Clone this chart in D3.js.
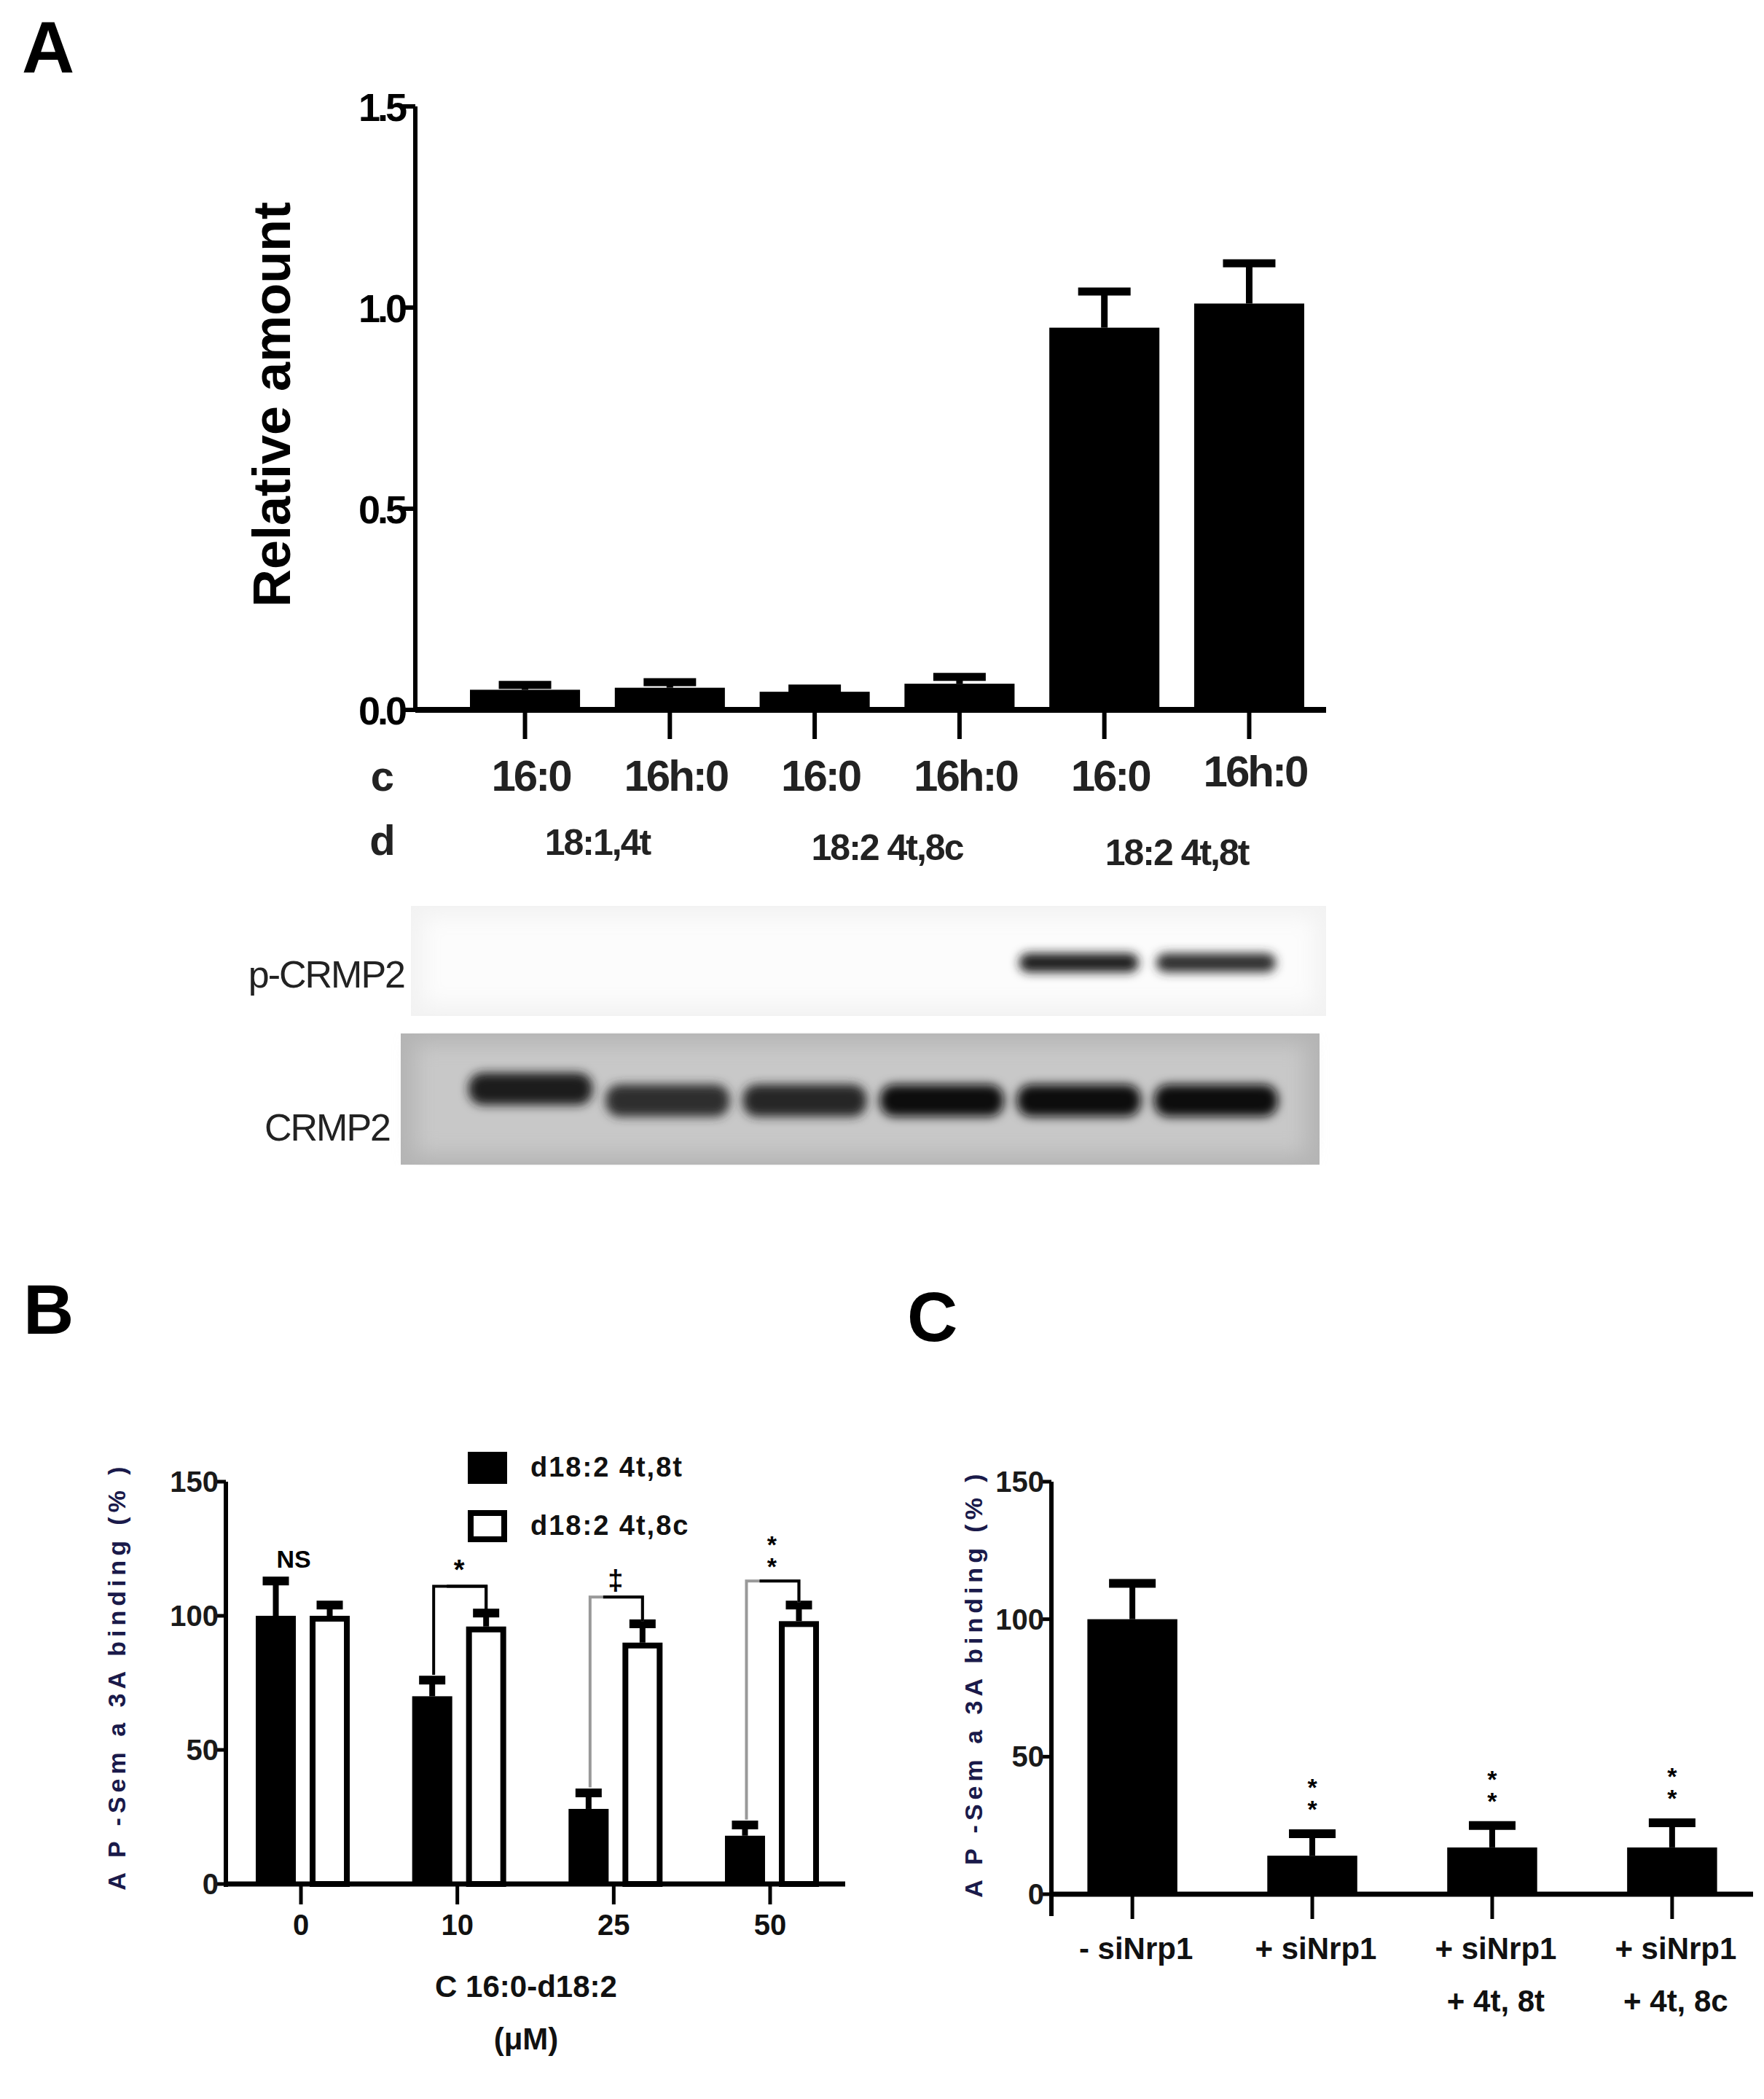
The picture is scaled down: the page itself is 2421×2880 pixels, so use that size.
<!DOCTYPE html>
<html><head><meta charset="utf-8">
<script src="https://cdn.jsdelivr.net/npm/d3@7"></script>
<style>body{margin:0;background:#fff}text{font-family:"Liberation Sans",Arial,sans-serif}</style>
</head><body><svg id="fig" width="2421" height="2880"></svg>
<script>
// Panel A data
var aCats = ["16:0", "16h:0", "16:0", "16h:0", "16:0", "16h:0"];
var aDLabels = ["18:1,4t", "18:2 4t,8c", "18:2 4t,8t"];
var aValues = [0.05, 0.055, 0.045, 0.065, 0.95, 1.01];
var aErr = [0.012, 0.014, 0.008, 0.017, 0.09, 0.1];
var aTicks = [0, 0.5, 1.0, 1.5];
var pBand = [0, 0, 0, 0, 0.9, 0.85];
var tBand = [0.75, 0.7, 0.72, 0.8, 0.82, 0.82];

// Panel B data
var bDoses = ["0", "10", "25", "50"];
var bTT = [100, 70, 28, 18];
var bTTerr = [13, 6, 6, 4];
var bTC = [100, 96, 90, 98];
var bTCerr = [4, 5, 7, 6];
var bSig = ["NS", "*", "‡", "**"];
var bTicks = [0, 50, 100, 150];

// Panel C data
var cCats = [["- siNrp1"], ["+ siNrp1"], ["+ siNrp1", "+ 4t, 8t"], ["+ siNrp1", "+ 4t, 8c"]];
var cValues = [100, 14, 17, 17];
var cErr = [13, 8, 8, 9];

var svg = d3.select("#fig");
var navy = "#1a1a4a";

// ---------- Panel A ----------
svg.append("text").attr("x", 30).attr("y", 100).attr("font-size", 100).attr("font-weight", "bold").text("A");

var ax = d3.scaleBand().domain(d3.range(6)).range([645, 1790]).paddingInner(0.24).paddingOuter(0);
var ay = d3.scaleLinear().domain([0, 1.5]).range([974, 146]);
var gA = svg.append("g");
gA.selectAll("rect.bar").data(aValues).join("rect")
  .attr("x", (d, i) => ax(i)).attr("width", ax.bandwidth())
  .attr("y", d => ay(d)).attr("height", d => ay(0) - ay(d)).attr("fill", "#000");
gA.selectAll("g.err").data(aValues).join("g").each(function (d, i) {
  var cx = ax(i) + ax.bandwidth() / 2, top = ay(d + aErr[i]);
  d3.select(this).append("line").attr("x1", cx).attr("x2", cx).attr("y1", ay(d)).attr("y2", top).attr("stroke", "#000").attr("stroke-width", 9);
  d3.select(this).append("line").attr("x1", cx - 36).attr("x2", cx + 36).attr("y1", top).attr("y2", top).attr("stroke", "#000").attr("stroke-width", 11);
});
gA.append("line").attr("x1", 570).attr("x2", 1820).attr("y1", ay(0)).attr("y2", ay(0)).attr("stroke", "#000").attr("stroke-width", 8);
gA.append("line").attr("x1", 570).attr("x2", 570).attr("y1", ay(0)).attr("y2", ay(1.5)).attr("stroke", "#000").attr("stroke-width", 6);
aValues.forEach((d, i) => {
  var cx = ax(i) + ax.bandwidth() / 2;
  gA.append("line").attr("x1", cx).attr("x2", cx).attr("y1", ay(0)).attr("y2", ay(0) + 40).attr("stroke", "#000").attr("stroke-width", 6);
});
aTicks.forEach(t => {
  gA.append("line").attr("x1", 552).attr("x2", 570).attr("y1", ay(t)).attr("y2", ay(t)).attr("stroke", "#000").attr("stroke-width", 6);
  gA.append("text").attr("x", 555).attr("y", ay(t) + 20).attr("text-anchor", "end").attr("font-size", 54)
    .attr("font-weight", "bold").attr("letter-spacing", -4).text(d3.format(".1f")(t));
});
gA.append("text").attr("transform", "translate(398,555) rotate(-90)").attr("text-anchor", "middle")
  .attr("font-size", 72).attr("font-weight", "bold").text("Relative amount");
gA.append("text").attr("x", 525).attr("y", 1085).attr("text-anchor", "middle").attr("font-size", 58).attr("font-weight", "bold").attr("fill", "#222").text("c");
gA.append("text").attr("x", 525).attr("y", 1173).attr("text-anchor", "middle").attr("font-size", 58).attr("font-weight", "bold").attr("fill", "#222").text("d");
aCats.forEach((c, i) => {
  gA.append("text").attr("x", ax(i) + ax.bandwidth() / 2 + 8).attr("y", 1085 - (i === 5 ? 6 : 0)).attr("text-anchor", "middle")
    .attr("font-size", 60).attr("font-weight", "bold").attr("fill", "#222").attr("letter-spacing", -3).text(c);
});
aDLabels.forEach((c, i) => {
  var cx = (ax(2 * i) + ax(2 * i + 1) + ax.bandwidth()) / 2;
  gA.append("text").attr("x", cx).attr("y", 1173 + i * 7).attr("text-anchor", "middle")
    .attr("font-size", 50).attr("font-weight", "bold").attr("fill", "#222").attr("letter-spacing", -2).text(c);
});

// blots
var lane = d3.scaleBand().domain(d3.range(6)).range([634, 1763]);
var defs = svg.append("defs");
defs.append("filter").attr("id", "blur").attr("x", "-20%").attr("y", "-100%").attr("width", "140%").attr("height", "300%")
  .append("feGaussianBlur").attr("stdDeviation", 7);
defs.append("filter").attr("id", "blur2").attr("x", "-10%").attr("y", "-10%").attr("width", "120%").attr("height", "120%")
  .append("feGaussianBlur").attr("stdDeviation", 14);
var g1 = svg.append("g");
g1.append("rect").attr("x", 564).attr("y", 1243).attr("width", 1256).attr("height", 151).attr("fill", "#f2f2f2");
g1.append("rect").attr("x", 580).attr("y", 1258).attr("width", 1225).attr("height", 121).attr("fill", "#fcfcfc").attr("filter", "url(#blur2)");
pBand.forEach((v, i) => {
  if (v <= 0) return;
  var cx = lane(i) + lane.bandwidth() / 2;
  g1.append("rect").attr("x", cx - 82).attr("y", 1308).attr("width", 164).attr("height", 26).attr("rx", 13)
    .attr("fill", d3.interpolateGreys(v)).attr("filter", "url(#blur)");
});
g1.append("text").attr("x", 555).attr("y", 1355).attr("text-anchor", "end").attr("font-size", 52).attr("fill", "#222").attr("letter-spacing", -2).text("p-CRMP2");
var g2 = svg.append("g");
g2.append("rect").attr("x", 550).attr("y", 1418).attr("width", 1261).attr("height", 180).attr("fill", "#b4b4b4");
g2.append("rect").attr("x", 570).attr("y", 1432).attr("width", 1222).attr("height", 152).attr("fill", "#c8c8c8").attr("filter", "url(#blur2)");
tBand.forEach((v, i) => {
  var cx = lane(i) + lane.bandwidth() / 2;
  g2.append("rect").attr("x", cx - 85).attr("y", 1488 + (i === 0 ? -16 : 0)).attr("width", 170).attr("height", 44).attr("rx", 20)
    .attr("fill", d3.interpolateGreys(v + 0.15)).attr("filter", "url(#blur)");
});
g2.append("text").attr("x", 535).attr("y", 1565).attr("text-anchor", "end").attr("font-size", 52).attr("fill", "#222").attr("letter-spacing", -2).text("CRMP2");

// ---------- Panel B ----------
svg.append("text").attr("x", 32).attr("y", 1830).attr("font-size", 96).attr("font-weight", "bold").text("B");
var bx = d3.scaleBand().domain(bDoses).range([310, 1160]).paddingInner(0.2).paddingOuter(0.08);
var by = d3.scaleLinear().domain([0, 150]).range([2585, 2033]);
var gB = svg.append("g");
var bw = 55;
function errBar(g, cx, v, e, y) {
  g.append("line").attr("x1", cx).attr("x2", cx).attr("y1", y(v)).attr("y2", y(v + e)).attr("stroke", "#000").attr("stroke-width", 8);
  g.append("line").attr("x1", cx - 18).attr("x2", cx + 18).attr("y1", y(v + e)).attr("y2", y(v + e)).attr("stroke", "#000").attr("stroke-width", 12);
}
bDoses.forEach((d, i) => {
  var c = bx(d) + bx.bandwidth() / 2;
  var xb = c - 62, xw = c + 12;
  gB.append("rect").attr("x", xb).attr("y", by(bTT[i])).attr("width", bw).attr("height", by(0) - by(bTT[i])).attr("fill", "#000");
  errBar(gB, xb + bw / 2, bTT[i], bTTerr[i], by);
  gB.append("rect").attr("x", xw + 4).attr("y", by(bTC[i]) + 4).attr("width", bw - 8).attr("height", by(0) - by(bTC[i]) - 4)
    .attr("fill", "#fff").attr("stroke", "#000").attr("stroke-width", 8);
  errBar(gB, xw + bw / 2, bTC[i], bTCerr[i], by);
  gB.append("line").attr("x1", c).attr("x2", c).attr("y1", by(0)).attr("y2", by(0) + 28).attr("stroke", "#000").attr("stroke-width", 5);
  gB.append("text").attr("x", c).attr("y", 2655).attr("text-anchor", "middle").attr("font-size", 40).attr("font-weight", "bold").attr("fill", "#111").text(d);
  if (i === 0) {
    gB.append("text").attr("x", c - 10).attr("y", by(118)).attr("text-anchor", "middle").attr("font-size", 34).attr("font-weight", "bold").text(bSig[i]);
  } else {
    var topY = by([0, 111, 107, 113][i]);
    var col = i === 1 ? "#000" : "#999";
    gB.append("path").attr("d", `M${xb + bw / 2 + 2},${by(bTT[i] + bTTerr[i] + 2)}V${topY}H${xw + bw / 2}V${by(bTC[i] + bTCerr[i] + 1)}`)
      .attr("fill", "none").attr("stroke", col).attr("stroke-width", 4);
    gB.append("path").attr("d", `M${xb + bw / 2 + 20},${topY}H${xw + bw / 2}V${by(bTC[i] + bTCerr[i] + 1)}`)
      .attr("fill", "none").attr("stroke", "#000").attr("stroke-width", 4);
    var mx = (xb + xw + bw) / 2;
    if (i === 3) {
      gB.append("text").attr("x", mx).attr("y", topY - 8).attr("text-anchor", "middle").attr("font-size", 34).attr("font-weight", "bold").text("*");
      gB.append("text").attr("x", mx).attr("y", topY - 38).attr("text-anchor", "middle").attr("font-size", 34).attr("font-weight", "bold").text("*");
    } else {
      gB.append("text").attr("x", mx).attr("y", topY - 10).attr("text-anchor", "middle").attr("font-size", 38).attr("font-weight", "bold").text(bSig[i]);
    }
  }
});
gB.append("line").attr("x1", 310).attr("x2", 1160).attr("y1", by(0)).attr("y2", by(0)).attr("stroke", "#000").attr("stroke-width", 7);
gB.append("line").attr("x1", 310).attr("x2", 310).attr("y1", by(0) + 4).attr("y2", by(150)).attr("stroke", "#000").attr("stroke-width", 6);
bTicks.forEach(t => {
  gB.append("line").attr("x1", 298).attr("x2", 310).attr("y1", by(t)).attr("y2", by(t)).attr("stroke", "#000").attr("stroke-width", 5);
  gB.append("text").attr("x", 300).attr("y", by(t) + 14).attr("text-anchor", "end").attr("font-size", 40).attr("font-weight", "bold").attr("fill", "#1a1a1a").text(t);
});
gB.append("text").attr("transform", "translate(172,2300) rotate(-90)").attr("text-anchor", "middle").attr("font-size", 34)
  .attr("font-weight", "bold").attr("fill", navy).attr("letter-spacing", 6).text("A P -Sem a 3A  binding (% )");
gB.append("text").attr("x", 722).attr("y", 2740).attr("text-anchor", "middle").attr("font-size", 42).attr("font-weight", "bold").attr("fill", "#111").text("C 16:0-d18:2");
gB.append("text").attr("x", 722).attr("y", 2812).attr("text-anchor", "middle").attr("font-size", 42).attr("font-weight", "bold").attr("fill", "#111").text("(μM)");
// legend
[["d18:2 4t,8t", "#000"], ["d18:2 4t,8c", "#fff"]].forEach((l, i) => {
  var y0 = 1992 + i * 80;
  gB.append("rect").attr("x", 646).attr("y", y0 + 4).attr("width", 46).attr("height", 36).attr("fill", l[1]).attr("stroke", "#000").attr("stroke-width", 8);
  gB.append("text").attr("x", 728).attr("y", y0 + 34).attr("font-size", 38).attr("font-weight", "bold").attr("fill", "#111").attr("letter-spacing", 2).text(l[0]);
});

// ---------- Panel C ----------
svg.append("text").attr("x", 1245).attr("y", 1840).attr("font-size", 96).attr("font-weight", "bold").text("C");
var cx = d3.scaleBand().domain(d3.range(4)).range([1443, 2406]).paddingInner(0.5).paddingOuter(0.2);
var cy = d3.scaleLinear().domain([0, 150]).range([2599, 2033]);
var gC = svg.append("g");
cValues.forEach((v, i) => {
  var x0 = cx(i), w = cx.bandwidth(), m = x0 + w / 2;
  gC.append("rect").attr("x", x0).attr("y", cy(v)).attr("width", w).attr("height", cy(0) - cy(v)).attr("fill", "#000");
  gC.append("line").attr("x1", m).attr("x2", m).attr("y1", cy(v)).attr("y2", cy(v + cErr[i])).attr("stroke", "#000").attr("stroke-width", 8);
  gC.append("line").attr("x1", m - 32).attr("x2", m + 32).attr("y1", cy(v + cErr[i])).attr("y2", cy(v + cErr[i])).attr("stroke", "#000").attr("stroke-width", 12);
  gC.append("line").attr("x1", m).attr("x2", m).attr("y1", cy(0)).attr("y2", cy(0) + 34).attr("stroke", "#000").attr("stroke-width", 5);
  if (i > 0) {
    gC.append("text").attr("x", m).attr("y", cy(v + cErr[i]) - 22).attr("text-anchor", "middle").attr("font-size", 34).attr("font-weight", "bold").text("*");
    gC.append("text").attr("x", m).attr("y", cy(v + cErr[i]) - 52).attr("text-anchor", "middle").attr("font-size", 34).attr("font-weight", "bold").text("*");
  }
  cCats[i].forEach((t, j) => {
    gC.append("text").attr("x", m + 5).attr("y", 2688 + j * 72).attr("text-anchor", "middle").attr("font-size", 42)
      .attr("font-weight", "bold").attr("fill", "#111").text(t);
  });
});
gC.append("line").attr("x1", 1443).attr("x2", 2406).attr("y1", cy(0)).attr("y2", cy(0)).attr("stroke", "#000").attr("stroke-width", 7);
gC.append("line").attr("x1", 1443).attr("x2", 1443).attr("y1", cy(0) + 30).attr("y2", cy(150)).attr("stroke", "#000").attr("stroke-width", 6);
bTicks.forEach(t => {
  gC.append("line").attr("x1", 1431).attr("x2", 1443).attr("y1", cy(t)).attr("y2", cy(t)).attr("stroke", "#000").attr("stroke-width", 5);
  gC.append("text").attr("x", 1433).attr("y", cy(t) + 14).attr("text-anchor", "end").attr("font-size", 40).attr("font-weight", "bold").attr("fill", "#1a1a1a").text(t);
});
gC.append("text").attr("transform", "translate(1348,2310) rotate(-90)").attr("text-anchor", "middle").attr("font-size", 34)
  .attr("font-weight", "bold").attr("fill", navy).attr("letter-spacing", 6).text("A P -Sem a 3A  binding (% )");
</script></body></html>
